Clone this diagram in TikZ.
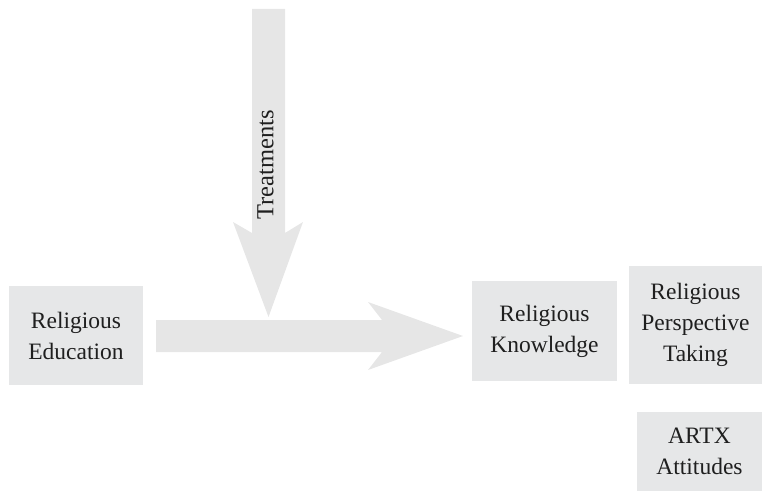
\documentclass[tikz,border=0pt]{standalone}
\usepackage{fontspec}
\setmainfont{Liberation Serif}
\tikzset{
  box/.style={fill=boxgray, draw=none, align=center, inner sep=0pt,
    font=\fontsize{23.5}{31}\selectfont, text=black!88},
  bigarrow/.style={fill=arrowgray, draw=none},
}
\definecolor{boxgray}{HTML}{E6E7E8}
\definecolor{arrowgray}{HTML}{E6E6E6}
\begin{document}
\begin{tikzpicture}[x=1pt,y=1pt]
\useasboundingbox (0,0) rectangle (763,491);
% boxes
\node[box, minimum width=134pt, minimum height=99pt] (re) at (76,155.5) {Religious\\Education};
\node[box, minimum width=145pt, minimum height=100pt] (rk) at (544.5,160) {Religious\\Knowledge};
\node[box, minimum width=133pt, minimum height=118pt] (rpt) at (695.5,166) {Religious\\Perspective\\Taking};
\node[box, minimum width=125pt, minimum height=79pt] (artx) at (699.5,39.5) {ARTX\\Attitudes};
% horizontal arrow
\coordinate (htail) at (156,155);
\coordinate (htip) at (463,155);
\fill[bigarrow] (156,171) -- (382,171) -- (368,189) -- (htip) -- (368,121) -- (382,139) -- (156,139) -- cycle;
% vertical arrow
\coordinate (vtail) at (268.5,482);
\coordinate (vtip) at (268.5,174);
\fill[bigarrow] (252,482) -- (285,482) -- (285,258) -- (303,269) -- (vtip) -- (233,269) -- (252,258) -- cycle;
\node[rotate=90, font=\fontsize{24.5}{31}\selectfont, text=black!88, inner sep=0pt] (treat) at (265.5,326) {Treatments};
\end{tikzpicture}
\end{document}
